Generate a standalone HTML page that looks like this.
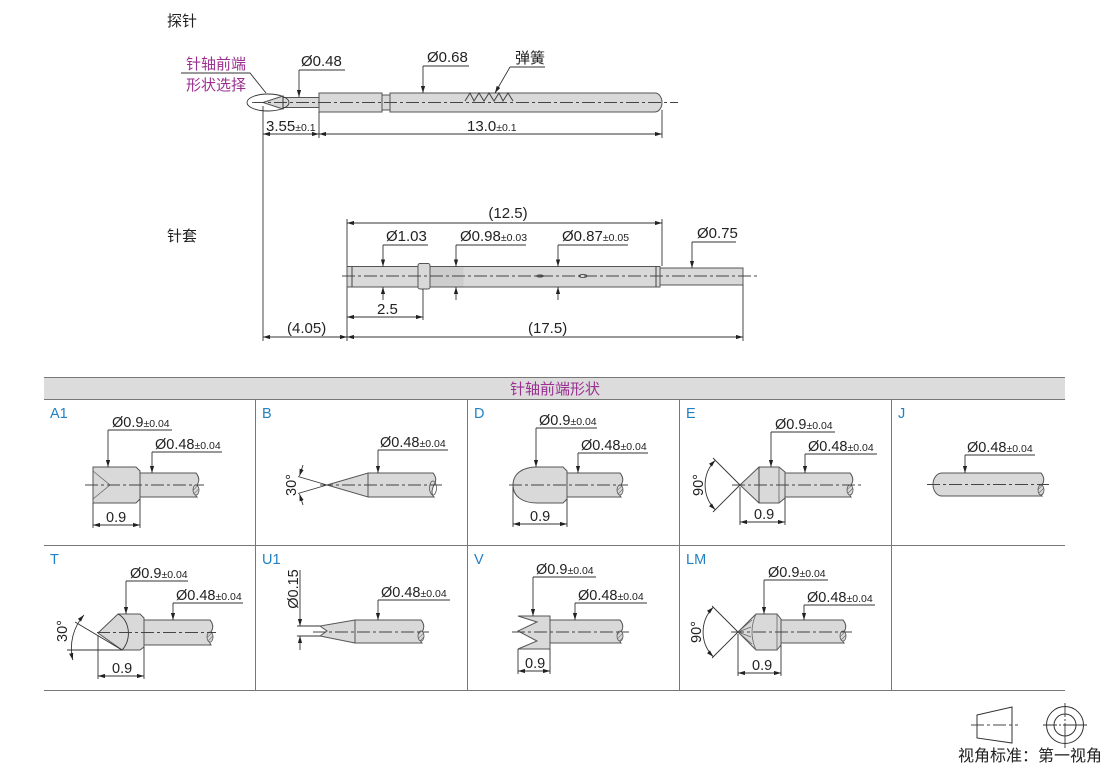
<!DOCTYPE html>
<html><head><meta charset="utf-8">
<style>
html,body{margin:0;padding:0;background:#fff;}
svg{display:block;}
text{font-family:"Liberation Sans","Noto Sans CJK SC",sans-serif;fill:#222;}
.h{font-size:15px;}
.p{font-size:15px;fill:#9b2f91;}
.L{font-size:15px;}
.d{font-size:14.5px;}
.t{font-size:10.5px;}
.b{font-size:14.5px;fill:#2280c4;}
.pt{fill:#d9d9d9;stroke:#555;stroke-width:1;}
.ln{fill:none;stroke:#333;stroke-width:0.9;}
.cl{fill:none;stroke:#444;stroke-width:0.9;stroke-dasharray:13 3 3 3;}
.th{fill:none;stroke:#666;stroke-width:0.8;}
</style></head>
<body>
<svg width="1110" height="766" viewBox="0 0 1110 766" xmlns="http://www.w3.org/2000/svg">
<defs>
<marker id="ar" viewBox="0 0 10 6" refX="10" refY="3" markerWidth="7" markerHeight="4.2" markerUnits="userSpaceOnUse" orient="auto-start-reverse"><path d="M0,0 L10,3 L0,6 z" fill="#222"/></marker>
<pattern id="hat" width="3" height="3" patternUnits="userSpaceOnUse" patternTransform="rotate(45)"><rect width="3" height="3" fill="#d9d9d9"/><line x1="0" y1="0" x2="0" y2="3" stroke="#555" stroke-width="1"/></pattern>
</defs>

<!-- ============ PROBE ============ -->
<text x="167" y="26" class="h">探针</text>
<text x="186" y="69" class="p">针轴前端</text>
<text x="186" y="90" class="p">形状选择</text>
<polyline points="181,73 250,73 266,93" class="ln"/>

<polygon points="263,102.5 283,96 283,109" class="pt"/>
<rect x="283" y="97.5" width="36" height="10" class="pt"/>
<rect x="319" y="93" width="63" height="19" class="pt"/>
<rect x="382" y="95" width="8" height="15" class="pt"/>
<path d="M390,93 H655 A7,9.5 0 0 1 655,112 H390 Z" class="pt"/>
<line x1="283" y1="96" x2="283" y2="109" class="ln"/>
<ellipse cx="268" cy="102.5" rx="21" ry="8.5" class="ln"/>
<line x1="252" y1="102.5" x2="678" y2="102.5" class="cl"/>
<polyline points="465,101 470,93 474,101 479,93 484,101 489,93 494,101 499,93 503,101 508,93 513,101" fill="none" stroke="#444" stroke-width="1"/>

<text x="301" y="66" class="L">Ø0.48</text>
<line x1="299" y1="70" x2="345" y2="70" class="ln"/>
<line x1="299" y1="70" x2="299" y2="97" class="ln" marker-end="url(#ar)"/>
<text x="427" y="62" class="L">Ø0.68</text>
<line x1="423" y1="66" x2="469" y2="66" class="ln"/>
<line x1="423" y1="66" x2="423" y2="93" class="ln" marker-end="url(#ar)"/>
<text x="515" y="63" class="L">弹簧</text>
<line x1="510" y1="67" x2="545" y2="67" class="ln"/>
<line x1="510" y1="67" x2="495" y2="93" class="ln" marker-end="url(#ar)"/>

<line x1="263" y1="106" x2="263" y2="341" class="ln"/>
<line x1="319" y1="112" x2="319" y2="138" class="ln"/>
<line x1="662" y1="110" x2="662" y2="138" class="ln"/>
<line x1="263" y1="134" x2="319" y2="134" class="ln" marker-start="url(#ar)" marker-end="url(#ar)"/>
<line x1="319" y1="134" x2="662" y2="134" class="ln" marker-start="url(#ar)" marker-end="url(#ar)"/>
<text x="266" y="131" class="L">3.55<tspan class="t">±0.1</tspan></text>
<text x="467" y="131" class="L">13.0<tspan class="t">±0.1</tspan></text>

<!-- ============ SLEEVE ============ -->
<text x="167" y="241" class="h">针套</text>
<text x="508" y="218" class="L" text-anchor="middle">(12.5)</text>
<line x1="347" y1="223" x2="662" y2="223" class="ln" marker-start="url(#ar)" marker-end="url(#ar)"/>
<line x1="347" y1="219" x2="347" y2="341" class="ln"/>
<line x1="662" y1="219" x2="662" y2="266" class="ln"/>

<rect x="347" y="266.5" width="71" height="20.5" class="pt"/>
<line x1="352" y1="266.5" x2="352" y2="287" class="ln"/>
<rect x="418" y="263.5" width="12" height="25.5" rx="2" class="pt"/>
<rect x="430" y="266.5" width="230" height="20.5" class="pt"/>
<rect x="430.5" y="267" width="33" height="19.5" fill="#cdcdcd"/>
<line x1="656" y1="266.5" x2="656" y2="287" class="ln"/>
<rect x="660" y="268" width="83" height="17" class="pt"/>
<ellipse cx="540" cy="276" rx="4" ry="1.6" fill="#555"/>
<ellipse cx="583" cy="276" rx="4" ry="1.6" fill="none" stroke="#444" stroke-width="0.9"/>
<line x1="342" y1="276" x2="757" y2="276" class="cl"/>

<text x="386" y="241" class="L">Ø1.03</text>
<line x1="383" y1="245" x2="428" y2="245" class="ln"/>
<line x1="383" y1="245" x2="383" y2="266.5" class="ln" marker-end="url(#ar)"/>
<line x1="383" y1="300" x2="383" y2="287" class="ln" marker-end="url(#ar)"/>
<text x="460" y="241" class="L">Ø0.98<tspan class="t">±0.03</tspan></text>
<line x1="456" y1="245" x2="526" y2="245" class="ln"/>
<line x1="456" y1="245" x2="456" y2="266.5" class="ln" marker-end="url(#ar)"/>
<line x1="456" y1="300" x2="456" y2="287" class="ln" marker-end="url(#ar)"/>
<text x="562" y="241" class="L">Ø0.87<tspan class="t">±0.05</tspan></text>
<line x1="558" y1="245" x2="628" y2="245" class="ln"/>
<line x1="558" y1="245" x2="558" y2="266.5" class="ln" marker-end="url(#ar)"/>
<line x1="558" y1="300" x2="558" y2="287" class="ln" marker-end="url(#ar)"/>
<text x="697" y="238" class="L">Ø0.75</text>
<line x1="692" y1="242" x2="736" y2="242" class="ln"/>
<line x1="692" y1="242" x2="692" y2="268" class="ln" marker-end="url(#ar)"/>

<line x1="423" y1="289" x2="423" y2="320" class="ln"/>
<line x1="347" y1="317" x2="423" y2="317" class="ln" marker-start="url(#ar)" marker-end="url(#ar)"/>
<text x="377" y="314" class="L">2.5</text>

<line x1="743" y1="285" x2="743" y2="341" class="ln"/>
<line x1="263" y1="337" x2="347" y2="337" class="ln" marker-start="url(#ar)" marker-end="url(#ar)"/>
<line x1="347" y1="337" x2="743" y2="337" class="ln" marker-start="url(#ar)" marker-end="url(#ar)"/>
<text x="287" y="333" class="L">(4.05)</text>
<text x="528" y="333" class="L">(17.5)</text>

<!-- ============ TABLE ============ -->
<rect x="44" y="377" width="1021" height="22" fill="#dcdcdc"/>
<line x1="44" y1="377.5" x2="1065" y2="377.5" stroke="#777" stroke-width="1"/>
<line x1="44" y1="399.5" x2="1065" y2="399.5" stroke="#777" stroke-width="1"/>
<line x1="44" y1="545.5" x2="1065" y2="545.5" stroke="#777" stroke-width="1"/>
<line x1="44" y1="690.5" x2="1065" y2="690.5" stroke="#777" stroke-width="1"/>
<line x1="255.5" y1="399" x2="255.5" y2="690" stroke="#777" stroke-width="1"/>
<line x1="467.5" y1="399" x2="467.5" y2="690" stroke="#777" stroke-width="1"/>
<line x1="679.5" y1="399" x2="679.5" y2="690" stroke="#777" stroke-width="1"/>
<line x1="891.5" y1="399" x2="891.5" y2="690" stroke="#777" stroke-width="1"/>
<text x="555" y="394" class="p" text-anchor="middle">针轴前端形状</text>

<text x="50" y="418" class="b">A1</text>
<text x="262" y="418" class="b">B</text>
<text x="474" y="418" class="b">D</text>
<text x="686" y="418" class="b">E</text>
<text x="898" y="418" class="b">J</text>
<text x="50" y="564" class="b">T</text>
<text x="262" y="564" class="b">U1</text>
<text x="474" y="564" class="b">V</text>
<text x="686" y="564" class="b">LM</text>

<!-- A1 -->
<polygon points="93,467 136,467 140,471 140,499 136,503 93,503" class="pt"/>
<polyline points="93,471 110,485 93,499" class="th"/>
<path d="M140,473 H196 Q201,479 197,485 Q193,493 197,497 H140 Z" class="pt"/>
<ellipse cx="196" cy="490" rx="3" ry="5" fill="url(#hat)" stroke="#555" stroke-width="0.8"/>
<line x1="85" y1="485" x2="204" y2="485" class="cl"/>
<text x="112" y="427" class="d">Ø0.9<tspan class="t">±0.04</tspan></text>
<line x1="108" y1="430" x2="172" y2="430" class="ln"/>
<line x1="108" y1="430" x2="108" y2="467" class="ln" marker-end="url(#ar)"/>
<text x="155" y="449" class="d">Ø0.48<tspan class="t">±0.04</tspan></text>
<line x1="152" y1="452" x2="222" y2="452" class="ln"/>
<line x1="152" y1="452" x2="152" y2="473" class="ln" marker-end="url(#ar)"/>
<line x1="93" y1="503" x2="93" y2="528" class="ln"/>
<line x1="140" y1="499" x2="140" y2="528" class="ln"/>
<line x1="93" y1="525" x2="140" y2="525" class="ln" marker-start="url(#ar)" marker-end="url(#ar)"/>
<text x="106" y="522" class="d">0.9</text>

<!-- B -->
<polygon points="327,485 368,473 368,497" class="pt"/>
<path d="M368,473 H433 Q438,479 434,485 Q430,493 434,497 H368 Z" class="pt"/>
<ellipse cx="433" cy="488" rx="3.5" ry="7" fill="none" stroke="#555" stroke-width="0.8"/>
<line x1="298" y1="476.5" x2="327" y2="485" class="ln"/>
<line x1="298" y1="493.5" x2="327" y2="485" class="ln"/>
<line x1="303" y1="465" x2="299.5" y2="476" class="ln" marker-end="url(#ar)"/>
<line x1="303" y1="505" x2="299.5" y2="494" class="ln" marker-end="url(#ar)"/>
<line x1="320" y1="485" x2="442" y2="485" class="cl"/>
<text transform="translate(296,485) rotate(-90)" text-anchor="middle" class="d">30°</text>
<text x="380" y="447" class="d">Ø0.48<tspan class="t">±0.04</tspan></text>
<line x1="378" y1="450" x2="448" y2="450" class="ln"/>
<line x1="378" y1="450" x2="378" y2="473" class="ln" marker-end="url(#ar)"/>

<!-- D -->
<path d="M537,467 H563 L567,471 V499 L563,503 H537 C522,503 513,496 513,485 C513,474 522,467 537,467 Z" class="pt"/>
<path d="M567,473 H620 Q625,479 621,485 Q617,492 621,497 H567 Z" class="pt"/>
<ellipse cx="620" cy="490" rx="3" ry="5" fill="url(#hat)" stroke="#555" stroke-width="0.8"/>
<line x1="509" y1="485" x2="628" y2="485" class="cl"/>
<text x="539" y="425" class="d">Ø0.9<tspan class="t">±0.04</tspan></text>
<line x1="536" y1="428" x2="597" y2="428" class="ln"/>
<line x1="536" y1="428" x2="536" y2="467" class="ln" marker-end="url(#ar)"/>
<text x="581" y="450" class="d">Ø0.48<tspan class="t">±0.04</tspan></text>
<line x1="578" y1="453" x2="648" y2="453" class="ln"/>
<line x1="578" y1="453" x2="578" y2="473" class="ln" marker-end="url(#ar)"/>
<line x1="513" y1="487" x2="513" y2="527" class="ln"/>
<line x1="567" y1="499" x2="567" y2="527" class="ln"/>
<line x1="513" y1="524" x2="567" y2="524" class="ln" marker-start="url(#ar)" marker-end="url(#ar)"/>
<text x="530" y="521" class="d">0.9</text>

<!-- E -->
<polygon points="740,485 759,467 779,467 785,472 785,498 779,503 759,503" class="pt"/>
<line x1="759" y1="467" x2="759" y2="503" class="ln"/>
<line x1="779" y1="467" x2="779" y2="503" class="th"/>
<path d="M785,473 H850 Q855,479 851,485 Q847,492 851,497 H785 Z" class="pt"/>
<ellipse cx="850" cy="490" rx="3" ry="5" fill="url(#hat)" stroke="#555" stroke-width="0.8"/>
<line x1="713" y1="458" x2="740" y2="485" class="ln"/>
<line x1="713" y1="512" x2="740" y2="485" class="ln"/>
<path d="M715.3,460.3 A35,35 0 0 0 715.3,509.7" class="ln" marker-start="url(#ar)" marker-end="url(#ar)"/>
<line x1="732" y1="485" x2="862" y2="485" class="cl"/>
<text transform="translate(703,485) rotate(-90)" text-anchor="middle" class="d">90°</text>
<text x="775" y="429" class="d">Ø0.9<tspan class="t">±0.04</tspan></text>
<line x1="771" y1="432" x2="835" y2="432" class="ln"/>
<line x1="771" y1="432" x2="771" y2="467" class="ln" marker-end="url(#ar)"/>
<text x="808" y="451" class="d">Ø0.48<tspan class="t">±0.04</tspan></text>
<line x1="805" y1="454" x2="877" y2="454" class="ln"/>
<line x1="805" y1="454" x2="805" y2="473" class="ln" marker-end="url(#ar)"/>
<line x1="740" y1="487" x2="740" y2="525" class="ln"/>
<line x1="785" y1="498" x2="785" y2="525" class="ln"/>
<line x1="740" y1="522" x2="785" y2="522" class="ln" marker-start="url(#ar)" marker-end="url(#ar)"/>
<text x="754" y="519" class="d">0.9</text>

<!-- J -->
<path d="M942,473 H1041 Q1046,479 1042,485 Q1038,492 1042,496 H942 A9,11.5 0 0 1 942,473 Z" class="pt"/>
<ellipse cx="1041" cy="490" rx="3" ry="5" fill="url(#hat)" stroke="#555" stroke-width="0.8"/>
<line x1="927" y1="484.5" x2="1049" y2="484.5" class="cl"/>
<text x="967" y="452" class="d">Ø0.48<tspan class="t">±0.04</tspan></text>
<line x1="965" y1="455" x2="1035" y2="455" class="ln"/>
<line x1="965" y1="455" x2="965" y2="473" class="ln" marker-end="url(#ar)"/>

<!-- T -->
<polygon points="98,633 118,614 140,614 144,618 144,647 140,650 122,650" class="pt"/>
<path d="M118,614 C130,620 132,640 122,650" class="ln"/>
<path d="M144,620 H210 Q215,626 211,632 Q207,639 211,645 H144 Z" class="pt"/>
<ellipse cx="210" cy="637" rx="3" ry="5" fill="url(#hat)" stroke="#555" stroke-width="0.8"/>
<line x1="97" y1="632.5" x2="216" y2="632.5" class="cl"/>
<line x1="75" y1="622" x2="122" y2="650" class="ln"/>
<line x1="67" y1="650" x2="122" y2="650" class="ln"/>
<path d="M84,615 A50,50 0 0 0 72.8,660" class="ln" marker-start="url(#ar)" marker-end="url(#ar)"/>
<text transform="translate(67,631) rotate(-90)" text-anchor="middle" class="d">30°</text>
<text x="130" y="578" class="d">Ø0.9<tspan class="t">±0.04</tspan></text>
<line x1="126" y1="581" x2="188" y2="581" class="ln"/>
<line x1="126" y1="581" x2="126" y2="614" class="ln" marker-end="url(#ar)"/>
<text x="176" y="600" class="d">Ø0.48<tspan class="t">±0.04</tspan></text>
<line x1="173" y1="603" x2="243" y2="603" class="ln"/>
<line x1="173" y1="603" x2="173" y2="620" class="ln" marker-end="url(#ar)"/>
<line x1="98" y1="635" x2="98" y2="679" class="ln"/>
<line x1="144" y1="647" x2="144" y2="679" class="ln"/>
<line x1="98" y1="676" x2="144" y2="676" class="ln" marker-start="url(#ar)" marker-end="url(#ar)"/>
<text x="112" y="673" class="d">0.9</text>

<!-- U1 -->
<polygon points="355,620 320,626 327,631 320,636 355,643" class="pt"/>
<path d="M355,620 H421 Q426,626 422,632 Q418,638 422,643 H355 Z" class="pt"/>
<ellipse cx="421" cy="636" rx="3" ry="5" fill="url(#hat)" stroke="#555" stroke-width="0.8"/>
<line x1="313" y1="632" x2="429" y2="632" class="cl"/>
<line x1="297" y1="626" x2="320" y2="626" class="ln"/>
<line x1="297" y1="636" x2="320" y2="636" class="ln"/>
<line x1="300" y1="570" x2="300" y2="626" class="ln" marker-end="url(#ar)"/>
<line x1="300" y1="650" x2="300" y2="636" class="ln" marker-end="url(#ar)"/>
<text transform="translate(298,589) rotate(-90)" text-anchor="middle" class="d">Ø0.15</text>
<text x="381" y="597" class="d">Ø0.48<tspan class="t">±0.04</tspan></text>
<line x1="378" y1="600" x2="450" y2="600" class="ln"/>
<line x1="378" y1="600" x2="378" y2="620" class="ln" marker-end="url(#ar)"/>

<!-- V -->
<polygon points="518,616 550,616 550,649 518,649 537,641 518,631 537,622" class="pt"/>
<path d="M550,620 H620 Q625,626 621,632 Q617,638 621,643 H550 Z" class="pt"/>
<ellipse cx="620" cy="636" rx="3" ry="5" fill="url(#hat)" stroke="#555" stroke-width="0.8"/>
<line x1="512" y1="632" x2="629" y2="632" class="cl"/>
<text x="536" y="574" class="d">Ø0.9<tspan class="t">±0.04</tspan></text>
<line x1="533" y1="577" x2="596" y2="577" class="ln"/>
<line x1="533" y1="577" x2="533" y2="616" class="ln" marker-end="url(#ar)"/>
<text x="578" y="600" class="d">Ø0.48<tspan class="t">±0.04</tspan></text>
<line x1="575" y1="603" x2="647" y2="603" class="ln"/>
<line x1="575" y1="603" x2="575" y2="620" class="ln" marker-end="url(#ar)"/>
<line x1="518" y1="649" x2="518" y2="674" class="ln"/>
<line x1="550" y1="649" x2="550" y2="674" class="ln"/>
<line x1="518" y1="671" x2="550" y2="671" class="ln" marker-start="url(#ar)" marker-end="url(#ar)"/>
<text x="525" y="668" class="d">0.9</text>

<!-- LM -->
<polygon points="738,632 756,614 777,614 781,619 781,645 777,650 756,650" class="pt"/>
<line x1="777" y1="614" x2="777" y2="650" class="th"/>
<path d="M756,614 Q748,632 756,650" class="th"/>
<line x1="738" y1="632" x2="752" y2="620" class="th"/>
<line x1="738" y1="632" x2="751" y2="627" class="th"/>
<line x1="738" y1="632" x2="751" y2="637" class="th"/>
<line x1="738" y1="632" x2="752" y2="644" class="th"/>
<path d="M781,620 H843 Q848,626 844,632 Q840,638 844,643 H781 Z" class="pt"/>
<ellipse cx="843" cy="636" rx="3" ry="5" fill="url(#hat)" stroke="#555" stroke-width="0.8"/>
<line x1="712" y1="606" x2="738" y2="632" class="ln"/>
<line x1="712" y1="658" x2="738" y2="632" class="ln"/>
<path d="M713.3,607.3 A35,35 0 0 0 713.3,656.7" class="ln" marker-start="url(#ar)" marker-end="url(#ar)"/>
<line x1="731" y1="632" x2="852" y2="632" class="cl"/>
<text transform="translate(701,632) rotate(-90)" text-anchor="middle" class="d">90°</text>
<text x="768" y="577" class="d">Ø0.9<tspan class="t">±0.04</tspan></text>
<line x1="764" y1="580" x2="828" y2="580" class="ln"/>
<line x1="764" y1="580" x2="764" y2="614" class="ln" marker-end="url(#ar)"/>
<text x="807" y="602" class="d">Ø0.48<tspan class="t">±0.04</tspan></text>
<line x1="804" y1="605" x2="875" y2="605" class="ln"/>
<line x1="804" y1="605" x2="804" y2="620" class="ln" marker-end="url(#ar)"/>
<line x1="738" y1="634" x2="738" y2="676" class="ln"/>
<line x1="781" y1="645" x2="781" y2="676" class="ln"/>
<line x1="738" y1="673" x2="781" y2="673" class="ln" marker-start="url(#ar)" marker-end="url(#ar)"/>
<text x="752" y="670" class="d">0.9</text>

<!-- view symbol -->
<polygon points="977,715 1012,707 1012,743 977,738" fill="none" stroke="#333" stroke-width="1"/>
<line x1="971" y1="725" x2="1018" y2="725" class="cl" stroke-dasharray="12 3 2 3"/>
<circle cx="1065" cy="725" r="18.5" fill="none" stroke="#333" stroke-width="1"/>
<circle cx="1065" cy="725" r="11" fill="none" stroke="#333" stroke-width="1"/>
<line x1="1043" y1="725" x2="1087" y2="725" stroke="#333" stroke-width="0.9" stroke-dasharray="14 2 2 2 30"/>
<line x1="1065" y1="703" x2="1065" y2="748" stroke="#333" stroke-width="0.9" stroke-dasharray="14 2 2 2 30"/>
<text x="958" y="761" style="font-size:16px">视角标准：第一视角</text>
</svg>
</body></html>
